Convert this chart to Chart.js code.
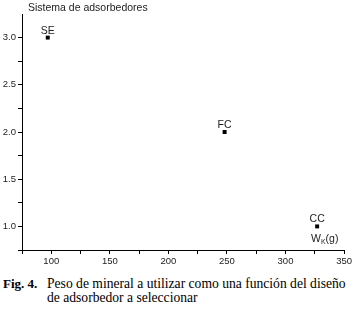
<!DOCTYPE html>
<html>
<head>
<meta charset="utf-8">
<script src="https://cdn.jsdelivr.net/npm/chart.js@4/dist/chart.umd.min.js"></script>
<style>
  body { margin: 0; background: #fff; }
  #wrap { position: relative; width: 354px; height: 311px; font-family: "Liberation Sans", Arial, sans-serif; }
  #plot { position: absolute; left: 0; top: 0; width: 354px; height: 268px; }
  .ytitle { position: absolute; left: 28px; top: 1px; font-size: 10.5px; color: #222; white-space: nowrap; }
  .xtitle { position: absolute; left: 311px; top: 232px; font-size: 10.5px; color: #222; white-space: nowrap; }
  .xtitle sub { font-size: 7px; vertical-align: -2px; }
  .caption { position: absolute; left: 3px; top: 277px; font-family: "Liberation Serif", "Times New Roman", serif; font-size: 13.6px; line-height: 14px; color: #000; }
  .caption b { position: absolute; left: 0; top: 0; font-size: 13px; }
  .caption div { margin-left: 44px; white-space: nowrap; }
</style>
</head>
<body>
<div id="wrap">
  <div id="plot"><canvas id="chart"></canvas></div>
  <div class="ytitle">Sistema de adsorbedores</div>
  <div class="xtitle">W<sub>K</sub>(g)</div>
  <div class="caption"><b>Fig. 4.</b><div>Peso de mineral a utilizar como una función del diseño</div><div>de adsorbedor a seleccionar</div></div>
</div>
<script>
// Datos
const adsorberCodes = ['SE', 'FC', 'CC'];
const mineralWeight = [97, 248, 327];   // W_K (g)
const systemLevel = [3.0, 2.0, 1.0];

const xRange = [75, 350];
const yRange = [0.75, 3.25];

// etiquetas encima de cada punto
const pointLabels = {
    id: 'pointLabels',
    afterDatasetsDraw(chart) {
        const ctx = chart.ctx;
        const meta = chart.getDatasetMeta(0);
        ctx.save();
        ctx.font = '10.5px "Liberation Sans", Arial, sans-serif';
        ctx.fillStyle = '#222';
        ctx.textAlign = 'center';
        ctx.textBaseline = 'alphabetic';
        meta.data.forEach((pt, i) => {
            ctx.fillText(adsorberCodes[i], pt.x, pt.y - 4);
        });
        ctx.restore();
    }
};

const tickColor = (edgeVal) => (c) => (c.tick && c.tick.value === edgeVal) ? 'rgba(0,0,0,0)' : '#000';

new Chart(document.getElementById('chart'), {
    type: 'scatter',
    data: {
        datasets: [{
            data: mineralWeight.map((w, i) => ({ x: w, y: systemLevel[i] })),
            backgroundColor: '#000',
            borderWidth: 0,
            pointStyle: 'rect',
            pointRadius: 2.8,
            pointHoverRadius: 2.8
        }]
    },
    options: {
        responsive: true,
        maintainAspectRatio: false,
        animation: false,
        events: [],
        layout: { padding: { top: 14, right: 9, left: 0, bottom: 0 } },
        plugins: { legend: { display: false }, tooltip: { enabled: false } },
        scales: {
            x: {
                type: 'linear',
                min: xRange[0],
                max: xRange[1],
                afterFit: (s) => { s.height = 18; },
                border: { display: true, color: '#000', width: 1 },
                grid: { drawOnChartArea: false, drawTicks: true, tickLength: 4, color: '#000' },
                ticks: {
                    stepSize: 25,
                    autoSkip: false,
                    maxRotation: 0,
                    padding: 2,
                    color: '#222',
                    font: { family: '"Liberation Sans", Arial, sans-serif', size: 9.5 },
                    callback: (v) => (v % 50 === 0 ? String(v) : '')
                }
            },
            y: {
                type: 'linear',
                min: yRange[0],
                max: yRange[1],
                afterFit: (s) => { s.width = 22; },
                border: { display: true, color: '#000', width: 1 },
                grid: { drawOnChartArea: false, drawTicks: true, tickLength: 4, color: tickColor(yRange[1]) },
                ticks: {
                    stepSize: 0.25,
                    autoSkip: false,
                    padding: 2,
                    color: '#222',
                    font: { family: '"Liberation Sans", Arial, sans-serif', size: 9.5 },
                    callback: (v) => (Math.abs(v * 2 - Math.round(v * 2)) < 1e-6 && v > 0.9 ? v.toFixed(1) : '')
                }
            }
        }
    },
    plugins: [pointLabels]
});
</script>
</body>
</html>
